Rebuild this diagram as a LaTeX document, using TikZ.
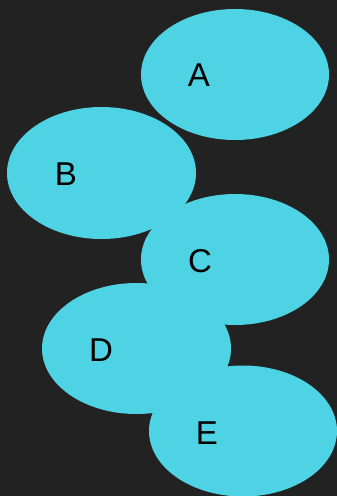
\documentclass[tikz,border=0pt]{standalone}
\usepackage{fontspec}
\setmainfont{Liberation Sans}
\definecolor{bg}{HTML}{222222}
\definecolor{cy}{HTML}{4DD3E3}
\begin{document}
\begin{tikzpicture}[x=1pt,y=-1pt,
  blob/.style={fill=cy,draw=none,ellipse},
  lab/.style={font=\fontsize{33}{33}\selectfont,text=black,inner sep=0pt}]
\fill[bg] (0,0) rectangle (337,496);
\useasboundingbox (0,0) rectangle (337,496);
\fill[cy] (235,74.5) ellipse [x radius=94, y radius=65.5];
\fill[cy] (101.5,173) ellipse [x radius=94.5, y radius=66];
\fill[cy] (235,259.5) ellipse [x radius=94, y radius=65.5];
\fill[cy] (136.5,348.5) ellipse [x radius=94.5, y radius=65.5];
\fill[cy] (243,431) ellipse [x radius=94, y radius=65.5];
\node[lab] (A) at (199,75) {A};
\node[lab] (B) at (66,174) {B};
\node[lab] (C) at (200,261) {C};
\node[lab] (D) at (101,350) {D};
\node[lab] (E) at (207,433) {E};
\end{tikzpicture}
\end{document}
